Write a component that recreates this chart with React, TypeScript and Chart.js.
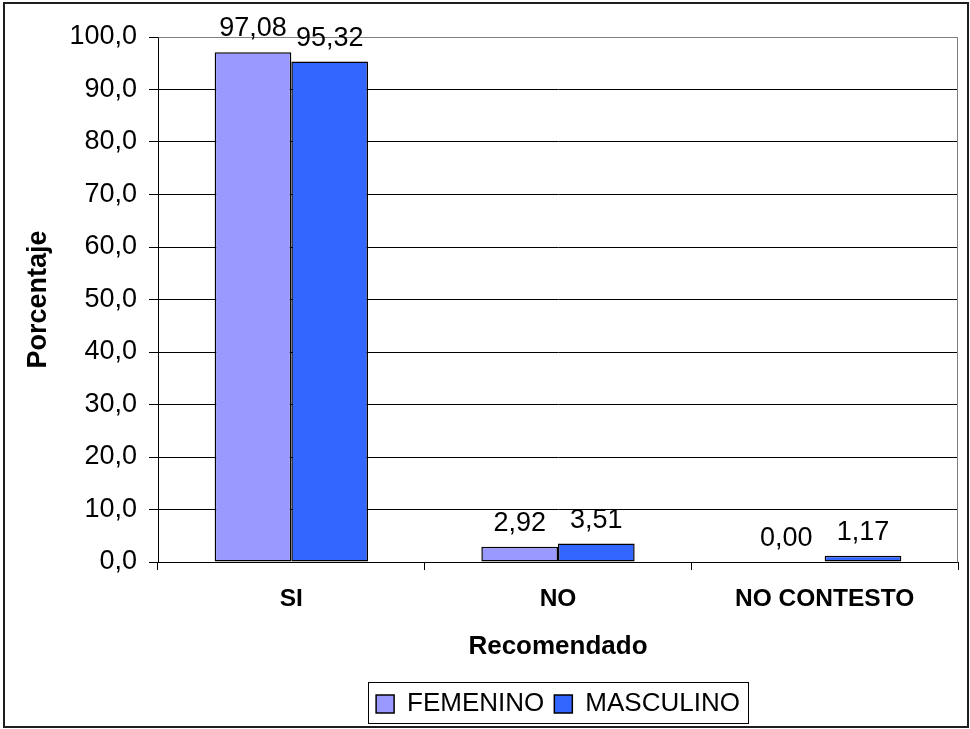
import React, { useEffect, useRef } from "react";
import { Chart, registerables } from "chart.js";

Chart.register(...registerables);

// Survey results: share of respondents who recommend, by sex (%)
const categories = ["SI", "NO", "NO CONTESTO"];
const seriesNames = ["FEMENINO", "MASCULINO"];
const femenino = [97.08, 2.92, 0.0];
const masculino = [95.32, 3.51, 1.17];
const yMin = 0;
const yMax = 100;
const yStep = 10;

const FONT = "'Liberation Sans', Arial, Helvetica, sans-serif";
const fmt = (v: number, d: number) => v.toFixed(d).replace(".", ",");

// Outer chart frame
const chartFrame = {
  id: "chartFrame",
  afterDraw(chart: any) {
    const { ctx } = chart;
    ctx.save();
    ctx.strokeStyle = "#1e1e1e";
    ctx.lineWidth = 2;
    ctx.strokeRect(4, 3, 964, 724);
    ctx.restore();
  },
};

// Grey top/right border of the plot area
const plotFrame = {
  id: "plotFrame",
  beforeDatasetsDraw(chart: any) {
    const { ctx, chartArea: a } = chart;
    ctx.save();
    ctx.strokeStyle = "#808080";
    ctx.lineWidth = 1;
    ctx.beginPath();
    ctx.moveTo(Math.round(a.left) + 0.5, Math.round(a.top) + 0.5);
    ctx.lineTo(Math.round(a.right) - 0.5, Math.round(a.top) + 0.5);
    ctx.lineTo(Math.round(a.right) - 0.5, Math.round(a.bottom) + 0.5);
    ctx.stroke();
    ctx.restore();
  },
};

// Box around the legend items
const legendFrame = {
  id: "legendFrame",
  afterDraw(chart: any) {
    const lg = chart.legend;
    if (!lg || !lg.legendHitBoxes || !lg.legendHitBoxes.length) return;
    const boxes = lg.legendHitBoxes;
    const left = Math.min(...boxes.map((b: any) => b.left)) - 8;
    const right = Math.max(...boxes.map((b: any) => b.left + b.width)) + 8;
    const mid = boxes[0].top + boxes[0].height / 2;
    const { ctx } = chart;
    ctx.save();
    ctx.strokeStyle = "#000";
    ctx.lineWidth = 1;
    ctx.strokeRect(Math.round(left) + 0.5, Math.round(mid - 22) + 0.5, Math.round(right - left), 41);
    ctx.restore();
  },
};

// Value labels above each bar
const valueLabels = {
  id: "valueLabels",
  afterDatasetsDraw(chart: any) {
    const { ctx } = chart;
    ctx.save();
    ctx.font = `27px ${FONT}`;
    ctx.fillStyle = "#000";
    ctx.textAlign = "center";
    ctx.textBaseline = "alphabetic";
    chart.data.datasets.forEach((ds: any, i: number) => {
      const meta = chart.getDatasetMeta(i);
      meta.data.forEach((el: any, j: number) => {
        ctx.fillText(fmt(ds.data[j], 2), el.x, el.y - 16);
      });
    });
    ctx.restore();
  },
};

export default function App() {
  const ref = useRef<HTMLCanvasElement | null>(null);

  useEffect(() => {
    if (!ref.current) return;
    const chart = new Chart(ref.current, {
      type: "bar",
      data: {
        labels: categories,
        datasets: [
          {
            label: seriesNames[0],
            data: femenino,
            backgroundColor: "#9999FF",
            borderColor: "#000",
            borderWidth: 1.5,
            borderSkipped: false,
            barPercentage: 1,
            categoryPercentage: 0.575,
          },
          {
            label: seriesNames[1],
            data: masculino,
            backgroundColor: "#3366FF",
            borderColor: "#000",
            borderWidth: 1.5,
            borderSkipped: false,
            barPercentage: 1,
            categoryPercentage: 0.575,
          },
        ],
      },
      options: {
        animation: false,
        responsive: false,
        maintainAspectRatio: false,
        layout: { padding: { left: 0, right: 12, top: 37, bottom: 2 } },
        plugins: {
          tooltip: { enabled: false },
          title: { display: false },
          legend: {
            display: true,
            position: "bottom",
            fullSize: false,
            labels: {
              color: "#000",
              font: { family: FONT, size: 26 },
              boxWidth: 18,
              boxHeight: 18,
              padding: 10,
            },
          },
        },
        scales: {
          x: {
            grid: {
              display: true,
              drawOnChartArea: false,
              drawTicks: true,
              tickLength: 8,
              color: "#000",
              offset: true,
            },
            border: { display: true, color: "#000", width: 1 },
            ticks: {
              color: "#000",
              font: { family: FONT, size: 24.5, weight: "bold" },
              padding: 15,
              maxRotation: 0,
            },
            title: {
              display: true,
              text: "Recomendado",
              color: "#000",
              font: { family: FONT, size: 26, weight: "bold" },
              padding: { top: 0, bottom: 19 },
            },
            afterFit(scale: any) {
              scale.height = 119;
            },
          },
          y: {
            min: yMin,
            max: yMax,
            grid: {
              color: (c: any) => (c.tick && c.tick.value === yMax ? "#808080" : "#000"),
              tickColor: "#000",
              tickLength: 9,
              lineWidth: 1,
            },
            border: { display: true, color: "#000", width: 1 },
            ticks: {
              stepSize: yStep,
              color: "#000",
              font: { family: FONT, size: 27 },
              padding: 12,
              callback: (v: any) => fmt(Number(v), 1),
            },
            title: {
              display: true,
              text: "Porcentaje",
              color: "#000",
              font: { family: FONT, size: 27, weight: "bold" },
              padding: { top: 22, bottom: 0 },
            },
            afterFit(scale: any) {
              scale.width = 158;
            },
          },
        },
      },
      plugins: [chartFrame, plotFrame, legendFrame, valueLabels],
    });
    return () => chart.destroy();
  }, []);

  return (
    <div style={{ position: "absolute", left: 0, top: 0, width: 970, height: 729, background: "#fff" }}>
      <canvas ref={ref} width={970} height={729} style={{ display: "block", width: 970, height: 729 }} />
    </div>
  );
}
